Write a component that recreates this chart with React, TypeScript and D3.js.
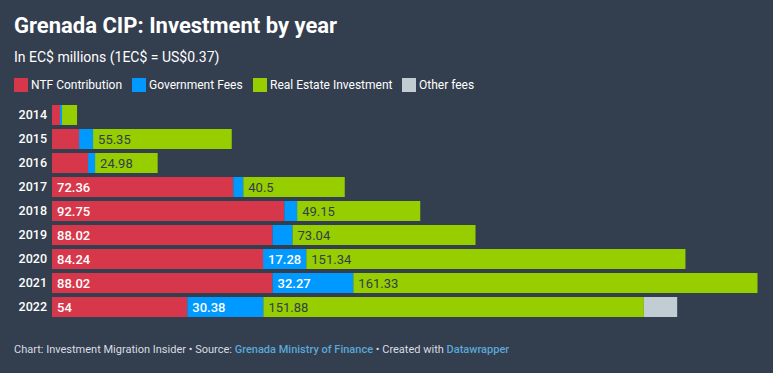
import React from 'react';
import * as d3 from 'd3';

const years = ['2014', '2015', '2016', '2017', '2018', '2019', '2020', '2021', '2022'];
const ntf = [3.2, 10.8, 14.4, 72.36, 92.75, 88.02, 84.24, 88.02, 54];
const govFees = [0.8, 5.6, 2.8, 4.0, 5.1, 8.0, 17.28, 32.27, 30.38];
const realEstate = [6.0, 55.35, 24.98, 40.5, 49.15, 73.04, 151.34, 161.33, 151.88];
const otherFees = [0, 0, 0, 0, 0, 0, 0, 0, 13.3];

const seriesNames = ['NTF Contribution', 'Government Fees', 'Real Estate Investment', 'Other fees'];
const seriesColors = ['#d7374a', '#0099ff', '#96ce00', '#c2cdd3'];
const labelColors = ['#ffffff', '#ffffff', '#333d4e', '#333d4e'];

const W = 773;
const H = 373;
const BG = '#333e4f';
const FONT = 'Roboto, "Noto Sans", sans-serif';

const App: React.FC = () => {
  const rows = years.map((year, i) => ({
    year,
    ntf: ntf[i],
    gov: govFees[i],
    re: realEstate[i],
    other: otherFees[i],
  }));
  const keys = ['ntf', 'gov', 're', 'other'];
  const stack = d3.stack<any>().keys(keys)(rows);

  const maxTotal = d3.max(rows, (r) => r.ntf + r.gov + r.re + r.other) as number;
  const x = d3.scaleLinear().domain([0, maxTotal]).range([52, 757.5]);
  const y = d3.scaleBand().domain(years).range([105, 317]).paddingInner(4 / 24).paddingOuter(0);

  // legend layout
  const legendX = [14, 132, 253, 402];

  const shownLabel = (k: number, w: number) => {
    if (k === 3) return false;
    return w > 40;
  };

  return (
    <div style={{ position: 'fixed', left: 0, top: 0, width: W, height: H, background: BG }}>
      <svg width={W} height={H} style={{ display: 'block', fontFamily: FONT }}>
        <rect width={W} height={H} fill={BG} />
        <text x={14} y={33} fill="#ffffff" fontSize={22} fontWeight={700}>
          Grenada CIP: Investment by year
        </text>
        <text x={14} y={62} fill="#ffffff" fontSize={14}>
          In EC$ millions (1EC$ = US$0.37)
        </text>
        {seriesNames.map((name, i) => (
          <g key={name} transform={`translate(${legendX[i]},78)`}>
            <rect width={14} height={14} fill={seriesColors[i]} />
            <text x={17} y={11} fill="#ffffff" fontSize={12}>
              {name}
            </text>
          </g>
        ))}
        {years.map((yr) => (
          <text
            key={yr}
            x={47}
            y={(y(yr) as number) + y.bandwidth() / 2}
            dy="0.35em"
            textAnchor="end"
            fill="#ffffff"
            fontSize={12.5}
            fontWeight={500}
          >
            {yr}
          </text>
        ))}
        {stack.map((s, k) =>
          s.map((d, i) => {
            const x0 = x(d[0]);
            const w = x(d[1]) - x0;
            if (w <= 0) return null;
            const yy = y(years[i]) as number;
            const val = rows[i][keys[k] as 'ntf'];
            return (
              <g key={`${k}-${i}`}>
                <rect x={x0} y={yy} width={w} height={y.bandwidth()} fill={seriesColors[k]} />
                {shownLabel(k, w) && (
                  <text
                    x={x0 + 5}
                    y={yy + y.bandwidth() / 2}
                    dy="0.36em"
                    fill={labelColors[k]}
                    fontSize={13}
                    fontWeight={k < 2 ? 500 : 400}
                  >
                    {val}
                  </text>
                )}
              </g>
            );
          })
        )}
        <text x={14} y={353} fontSize={11} fill="#d9dde2">
          Chart: Investment Migration Insider • Source:{' '}
          <tspan fill="#5aa8d8" fontWeight={500}>Grenada Ministry of Finance</tspan>
          {' '}• Created with{' '}
          <tspan fill="#5aa8d8" fontWeight={500}>Datawrapper</tspan>
        </text>
      </svg>
    </div>
  );
};

export default App;
